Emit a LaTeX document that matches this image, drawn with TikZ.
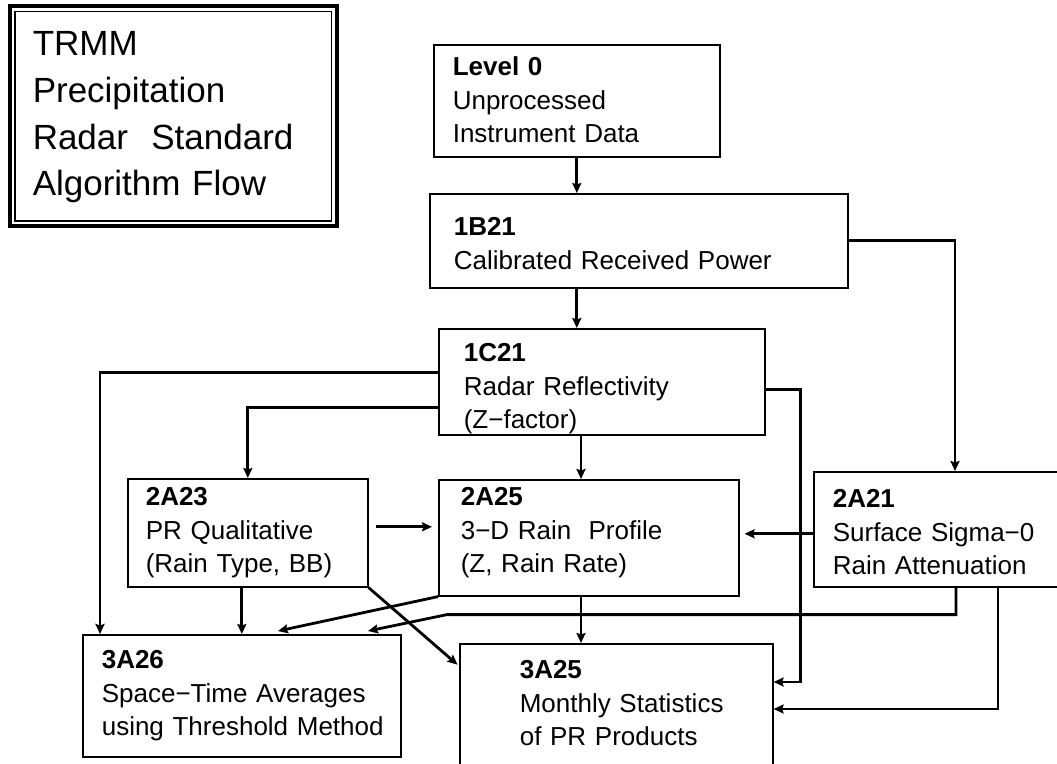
\documentclass[tikz,border=0pt]{standalone}
\usepackage{fontspec}
\setmainfont{Liberation Sans}
\usetikzlibrary{arrows.meta}

\begin{document}
\begin{tikzpicture}[x=1pt, y=-1pt,
    blk/.style={draw, line width=1.6pt, anchor=north west, inner ysep=0pt,
      align=left, font=\fontsize{26}{33.5}\selectfont},
    arr/.style={line width=2.8pt, -{Stealth[length=10pt, width=9pt, inset=1.5pt]}},
    ]
    \useasboundingbox (0,0) rectangle (1057,763);
    \clip (0,0) rectangle (1057,763);

    % title
    \node[draw, line width=1.5pt, anchor=north west, inner xsep=18pt, inner ysep=0pt,
      text width=280.5pt, text height=44.5pt, text depth=165pt, align=left,
      font=\fontsize{35}{46.7}\selectfont] (ttl) at (14,10.5)
      {TRMM\\ Precipitation\\ Radar\ \ Standard\\ Algorithm Flow};
    \draw[line width=4pt] ([shift={(-4.5,-4.5)}]ttl.north west) rectangle ([shift={(4.5,4.5)}]ttl.south east);

    % products
    \node[blk, inner xsep=19pt, text width=248pt, text height=31pt, text depth=81pt] (lvl0) at (433,44)
      {\textbf{Level 0}\\ Unprocessed\\ Instrument~Data};
    \node[blk, inner xsep=24pt, text width=370pt, text height=42pt, text depth=52pt] (b21) at (429,193)
      {\textbf{1B21}\\ Calibrated~Received~Power};
    \node[blk, inner xsep=25pt, text width=276pt, text height=33pt, text depth=73pt] (c21) at (438,328)
      {\textbf{1C21}\\ Radar~Reflectivity\\ (Z−factor)};
    \node[blk, inner xsep=18pt, text width=204pt, text height=27pt, text depth=81pt] (a23) at (127,478)
      {\textbf{2A23}\\ PR~Qualitative\\ (Rain~Type,~BB)};
    \node[blk, inner xsep=22pt, text width=256pt, text height=26pt, text depth=90pt] (a25) at (438,479)
      {\textbf{2A25}\\ 3−D~Rain~\ Profile\\ (Z,~Rain~Rate)};
    \node[blk, inner xsep=19pt, text width=214pt, text height=36pt, text depth=79pt] (a21) at (813,471)
      {\textbf{2A21}\\ Surface~Sigma−0\\ Rain~Attenuation};
    \node[blk, inner xsep=19pt, text width=280pt, text height=34pt, text depth=88pt] (a26) at (82,634)
      {\textbf{3A26}\\ Space−Time~Averages\\ \mbox{using Threshold Method}};
    \node[blk, inner xsep=40pt, text width=233pt, text height=35pt, text depth=90pt] (b25) at (459,643)
      {\hspace*{20pt}\textbf{3A25}\\ \hspace*{20pt}Monthly~Statistics\\ \hspace*{20pt}of~PR~Products};

    % connector ends
    \coordinate (c21o) at ([xshift=143]c21.south west);
    \coordinate (c21r) at ([yshift=-8]c21.east);
    \coordinate (c21l1) at ([yshift=9]c21.west);
    \coordinate (c21l2) at ([yshift=-26]c21.west);
    \coordinate (a21t) at ([xshift=142]a21.north west);
    \coordinate (a21l) at ([yshift=-4.5]a21.west);
    \coordinate (a21b1) at ([xshift=143]a21.south west);
    \coordinate (a21b2) at ([xshift=185]a21.south west);
    \coordinate (a23r) at ([xshift=7,yshift=6]a23.east);
    \coordinate (a26t1) at ([xshift=196,yshift=3]a26.north west);
    \coordinate (a26t2) at ([xshift=286,yshift=3]a26.north west);
    \coordinate (a26t3) at ([xshift=18]a26.north west);
    \coordinate (b25r1) at ([yshift=-39]b25.north east);
    \coordinate (b25r2) at ([yshift=-66]b25.north east);

    % flow
    \draw[arr] (lvl0.south) -- (lvl0.south |- b21.north);
    \draw[arr] (lvl0.south |- b21.south) -- (lvl0.south |- c21.north);
    \draw[arr] (b21.east) -| (a21t);
    \draw[arr] (c21o) -- (c21o |- a25.north);
    \draw[arr] (c21l1) -| (a26t3);
    \draw[arr] (c21l2) -| (a23.north);
    \draw[arr] (c21r) -- ++(35,0) |- (b25r1);
    \draw[arr, shorten >=6pt] (a23r) -- (a23r -| a25.west);
    \draw[arr, shorten >=5pt] (a21l) -- (a21l -| a25.east);
    \draw[arr] (a23.south -| a26.north) -- (a26.north);
    \draw[arr, shorten >=2pt] (a23.south east) -- ([yshift=-23]b25.north west);
    \draw[arr] (a25.south west) -- (a26t1);
    \draw[arr] (c21o |- a25.south) -- (c21o |- b25.north);
    \draw[arr] (a21b1) -- ++(0,27) -- ++(-509,0) -- (a26t2);
    \draw[arr] (a21b2) |- (b25r2);
  \end{tikzpicture}
\end{document}
